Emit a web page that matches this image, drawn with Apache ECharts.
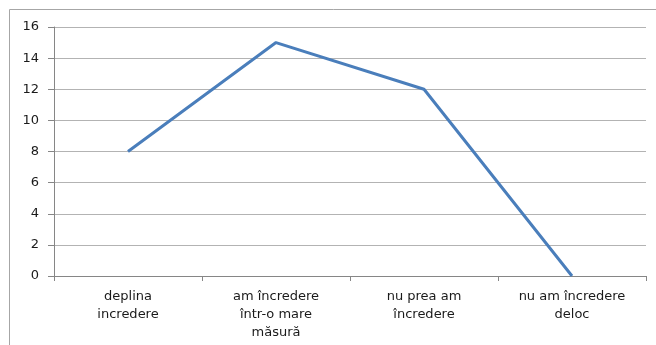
<!DOCTYPE html>
<html>
<head>
<meta charset="utf-8">
<script src="https://cdn.jsdelivr.net/npm/echarts@6/dist/echarts.min.js"></script>
<style>
  html, body { margin: 0; padding: 0; background: #fff; }
  #chart { width: 656px; height: 345px; }
</style>
</head>
<body>
<div id="chart"></div>
<script>
// categories and values
const categories = [
  "deplina\nincredere",
  "am încredere\nîntr-o mare\nmăsură",
  "nu prea am\nîncredere",
  "nu am încredere\ndeloc"
];
const values = [8, 15, 12, 0];

const myChart = echarts.init(document.getElementById("chart"));

var option = {
  animation: false,
  backgroundColor: "#fff",
  textStyle: {fontFamily: "DejaVu Sans, sans-serif"},
  graphic: [{
    type: "rect",
    shape: {x: 9.5, y: 9.5, width: 660, height: 350},
    style: {fill: "none", stroke: "#a6a6a6", lineWidth: 1},
    silent: true
  }],
  grid: {left: 54, right: 10, top: 27, bottom: 69},
  xAxis: {
    type: "category",
    data: categories,
    boundaryGap: true,
    axisLine: {lineStyle: {color: "#868686"}},
    axisTick: {show: true, length: 5, lineStyle: {color: "#868686"}},
    axisLabel: {
      color: "#1a1a1a",
      fontSize: 13,
      lineHeight: 18,
      margin: 12,
      interval: 0
    }
  },
  yAxis: {
    type: "value",
    min: 0,
    max: 16,
    interval: 2,
    axisLine: {show: true, lineStyle: {color: "#868686"}},
    axisTick: {show: true, length: 6, lineStyle: {color: "#868686"}},
    axisLabel: {color: "#1a1a1a", fontSize: 13, margin: 15},
    splitLine: {lineStyle: {color: "#b3b3b3"}}
  },
  series: [{
    type: "line",
    data: values,
    symbol: "none",
    lineStyle: {color: "#4a7ebb", width: 3}
  }]
};

myChart.setOption(option);
</script>
</body>
</html>
